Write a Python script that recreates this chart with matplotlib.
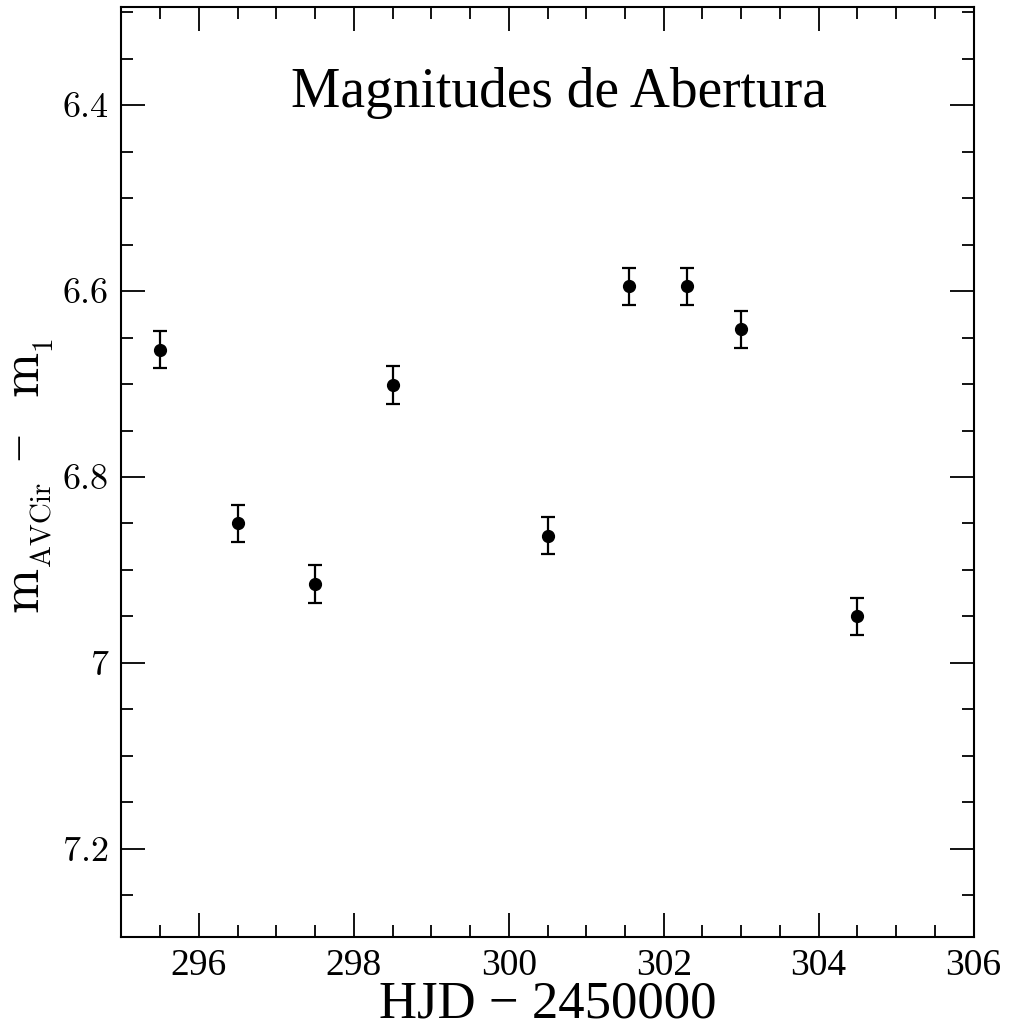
import matplotlib
matplotlib.use("Agg")
import matplotlib.pyplot as plt
from matplotlib.ticker import MultipleLocator

# Data (HJD - 2450000, magnitude difference, error)
hjd = [295.5, 296.5, 297.5, 298.5, 300.5, 301.55, 302.3, 303.0, 304.5]
mag = [6.663, 6.850, 6.915, 6.701, 6.863, 6.595, 6.595, 6.641, 6.950]
err = [0.02, 0.02, 0.02, 0.02, 0.02, 0.02, 0.02, 0.02, 0.02]

x_ticks = [296, 298, 300, 302, 304, 306]
y_ticks = [6.4, 6.6, 6.8, 7.0, 7.2]
y_ticklabels = ['6.4', '6.6', '6.8', '7', '7.2']

W, H = 1009, 1028
fig = plt.figure(figsize=(W / 100, H / 100), dpi=100)
ax = fig.add_axes([121.4 / W, 1 - 937.3 / H, (973.6 - 121.4) / W, (937.3 - 7.4) / H])

ax.errorbar(hjd, mag, yerr=err, fmt='o', color='black', ms=8.5,
            ecolor='black', elinewidth=1.6, capsize=5, capthick=1.6)

ax.set_xlim(295, 306)
ax.set_ylim(7.295, 6.295)

ax.set_xticks(x_ticks)
ax.set_yticks(y_ticks)
ax.set_yticklabels(y_ticklabels)
ax.xaxis.set_minor_locator(MultipleLocator(0.5))
ax.yaxis.set_minor_locator(MultipleLocator(0.05))

ax.tick_params(which='both', direction='in', top=True, right=True, color='black')
ax.tick_params(which='major', length=17, width=1.3)
ax.tick_params(which='minor', length=8.5, width=1.3)
ax.tick_params(axis='x', which='major', pad=8)
ax.tick_params(axis='y', which='major', pad=9)

for lab in ax.get_xticklabels():
    lab.set_fontfamily('Liberation Serif')
    lab.set_fontsize(27)
for lab in ax.get_yticklabels():
    lab.set_fontfamily('cmr10')
    lab.set_fontsize(26)

for sp in ax.spines.values():
    sp.set_linewidth(1.5)

# x label
fig.text(548 / W, 1 - 1017 / H, 'HJD \u2212 2450000', ha='center', va='baseline',
         fontfamily='Liberation Serif', fontsize=38)

# y label built from pieces: m_AVCir - m_1
def px(x, y):
    return x / W, 1 - y / H

kw = dict(rotation=90, rotation_mode='anchor', ha='left', va='baseline')
fig.text(*px(37, 612), 'm', fontfamily='cmr10', fontsize=39, **kw)
fig.text(*px(50, 566), 'AVCir', fontfamily='cmr10', fontsize=21, **kw)
fig.text(*px(31, 460), '\u2013', fontfamily='Liberation Serif', fontsize=33, **kw)
fig.text(*px(37, 396), 'm', fontfamily='cmr10', fontsize=39, **kw)
fig.text(*px(50, 350), '1', fontfamily='cmr10', fontsize=21, **kw)

# title
ax.text(0.513, 0.908, 'Magnitudes de Abertura', transform=ax.transAxes,
        ha='center', va='center', fontfamily='Liberation Serif', fontsize=40)

fig.savefig('out.png', dpi=100)
